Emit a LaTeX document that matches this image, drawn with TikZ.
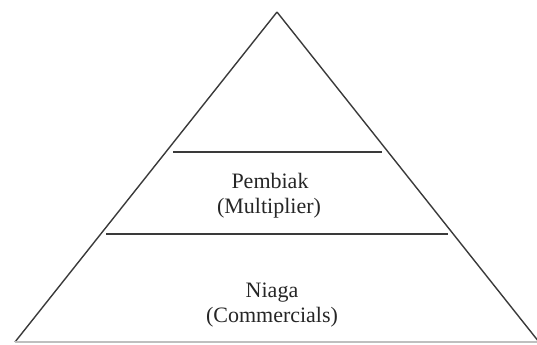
\documentclass[tikz,border=0pt]{standalone}
\usepackage{fontspec}
\setmainfont{Liberation Serif}
\usepackage{xcolor}
\definecolor{edge}{HTML}{3A3A3A}

\begin{document}
\begin{tikzpicture}[x=0.5pt,y=-0.5pt,
        side/.style={draw=edge,line width=0.7pt},
        level/.style={anchor=base,inner sep=0pt,font=\fontsize{11}{13}\selectfont,text=black!85}]
        \useasboundingbox (0,0) rectangle (537,344);
        \coordinate(apex) at (277,12);
        \coordinate(bl) at (15,342);
        \coordinate(br) at (539,342);
        \coordinate(ul) at (173,152);
        \coordinate(ur) at (382,152);
        \coordinate(ml) at (106,234);
        \coordinate(mr) at (448,234);
        \node[level](pembiak) at (270,188) {Pembiak};
        \node[level](multiplier) at (269,213) {(Multiplier)};
        \node[level](niaga) at (272,297) {Niaga};
        \node[level](commercials) at (272,322) {(Commercials)};
        \draw[side](bl)--(apex);
        \draw[side](apex)--(br);
        \draw[draw=black!25,line width=0.7pt](bl)--(br);
        \draw[side](ul)--(ur);
        \draw[side](ml)--(mr);
        \end{tikzpicture}
\end{document}
